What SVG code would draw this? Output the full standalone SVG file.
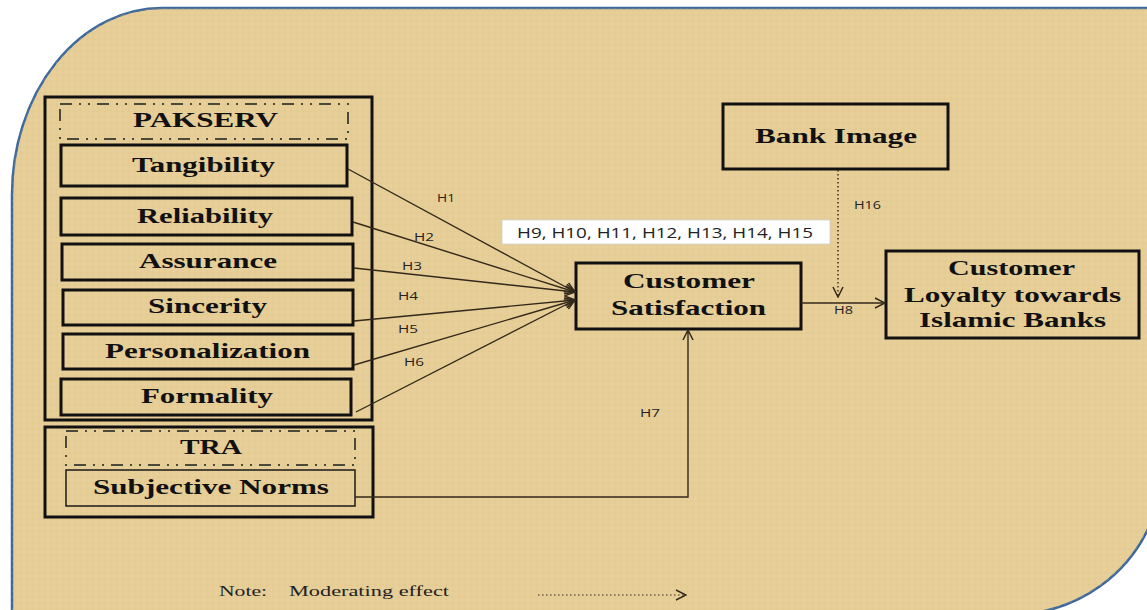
<svg xmlns="http://www.w3.org/2000/svg" width="1147" height="610" viewBox="0 0 1147 610">
<defs>
<style>
.bg{fill:#e8cf99;stroke:#3d689c;stroke-width:2.5}
.box{fill:none;stroke:#111;stroke-width:3}
.thin{fill:none;stroke:#1a1a1a;stroke-width:1.5}
.dash{fill:none;stroke:#4a4a3a;stroke-width:2;stroke-dasharray:12 7 2 7 2 7}
.t{font-family:"Liberation Serif","Times New Roman",serif;font-weight:bold;fill:#111}
.h{font-family:"Open Sans","Liberation Sans",sans-serif;fill:#222}
.n{font-family:"Liberation Serif","Times New Roman",serif;fill:#222}
.c{fill:none;stroke:#33291a;stroke-width:1.4}
</style>
<marker id="ah" viewBox="0 0 12 12" refX="11" refY="6" markerWidth="12" markerHeight="12" markerUnits="userSpaceOnUse" orient="auto">
<path d="M1,1 L11,6 L1,11" fill="none" stroke="#33291a" stroke-width="1.5"/>
</marker>
<pattern id="tex" width="6" height="6" patternUnits="userSpaceOnUse">
<path d="M0,3 H6 M3,0 V6" stroke="#d9bd82" stroke-width="0.6" opacity="0.5"/>
</pattern>
</defs>
<rect width="1147" height="610" fill="#ffffff"/>
<path class="bg" d="M12,614 V195 A150,187 0 0 1 162,8 H1152 V520 A150,150 0 0 1 1023,614 Z"/>
<path d="M12,614 V195 A150,187 0 0 1 162,8 H1152 V520 A150,150 0 0 1 1023,614 Z" fill="url(#tex)"/>

<g id="pakserv">
<rect class="box" x="45" y="97" width="327" height="323"/>
<rect class="dash" x="60" y="104" width="288" height="35"/>
<text class="t" x="133" y="127" font-size="20" textLength="145" lengthAdjust="spacingAndGlyphs">PAKSERV</text>
</g>
<g id="tangibility">
<rect class="box" x="61" y="145" width="286" height="41"/>
<text class="t" x="132" y="172" font-size="22" textLength="143" lengthAdjust="spacingAndGlyphs">Tangibility</text>
</g>
<g id="reliability">
<rect class="box" x="61" y="198" width="291" height="37"/>
<text class="t" x="137" y="223" font-size="22" textLength="136" lengthAdjust="spacingAndGlyphs">Reliability</text>
</g>
<g id="assurance">
<rect class="box" x="62" y="244" width="291" height="36"/>
<text class="t" x="139" y="268" font-size="22" textLength="138" lengthAdjust="spacingAndGlyphs">Assurance</text>
</g>
<g id="sincerity">
<rect class="box" x="63" y="290" width="290" height="35"/>
<text class="t" x="148" y="313" font-size="22" textLength="119" lengthAdjust="spacingAndGlyphs">Sincerity</text>
</g>
<g id="personalization">
<rect class="box" x="63" y="334" width="290" height="35"/>
<text class="t" x="105" y="358" font-size="22" textLength="205" lengthAdjust="spacingAndGlyphs">Personalization</text>
</g>
<g id="formality">
<rect class="box" x="61" y="379" width="290" height="36"/>
<text class="t" x="141" y="403" font-size="22" textLength="132" lengthAdjust="spacingAndGlyphs">Formality</text>
</g>
<g id="tra">
<rect class="box" x="45" y="427" width="328" height="90"/>
<rect class="dash" x="66" y="431" width="289" height="34"/>
<text class="t" x="180" y="454" font-size="20" textLength="62" lengthAdjust="spacingAndGlyphs">TRA</text>
</g>
<g id="subjective-norms">
<rect class="thin" x="66" y="470" width="289" height="36"/>
<text class="t" x="93" y="494" font-size="21" textLength="236" lengthAdjust="spacingAndGlyphs">Subjective Norms</text>
</g>
<g id="customer-satisfaction">
<rect class="box" x="576" y="263" width="225" height="66"/>
<text class="t" x="623" y="288" font-size="21" textLength="132" lengthAdjust="spacingAndGlyphs">Customer</text>
<text class="t" x="611" y="315" font-size="21" textLength="155" lengthAdjust="spacingAndGlyphs">Satisfaction</text>
</g>
<g id="bank-image">
<rect class="box" x="723" y="104" width="225" height="65"/>
<text class="t" x="755" y="143" font-size="21" textLength="162" lengthAdjust="spacingAndGlyphs">Bank Image</text>
</g>
<g id="customer-loyalty">
<rect class="box" x="886" y="251" width="253" height="87"/>
<text class="t" x="948" y="275" font-size="21" textLength="127" lengthAdjust="spacingAndGlyphs">Customer</text>
<text class="t" x="904" y="302" font-size="21" textLength="217" lengthAdjust="spacingAndGlyphs">Loyalty towards</text>
<text class="t" x="919" y="327" font-size="21" textLength="187" lengthAdjust="spacingAndGlyphs">Islamic Banks</text>
</g>
<g id="moderators-label">
<rect x="502" y="220" width="328" height="24" fill="#ffffff" stroke="#cfcfcf" stroke-width="0.8"/>
<text class="h" x="517" y="238" font-size="14" textLength="296" lengthAdjust="spacingAndGlyphs">H9, H10, H11, H12, H13, H14, H15</text>
</g>

<g id="connectors">
<line class="c" x1="348" y1="169" x2="575" y2="292" marker-end="url(#ah)"/>
<line class="c" x1="353" y1="222" x2="575" y2="292" marker-end="url(#ah)"/>
<line class="c" x1="354" y1="268" x2="575" y2="292" marker-end="url(#ah)"/>
<line class="c" x1="354" y1="321" x2="575" y2="300" marker-end="url(#ah)"/>
<line class="c" x1="354" y1="365" x2="575" y2="300" marker-end="url(#ah)"/>
<line class="c" x1="356" y1="412" x2="575" y2="300" marker-end="url(#ah)"/>
<polyline class="c" points="355,497 688,497 688,330" marker-end="url(#ah)"/>
<line class="c" x1="801" y1="303" x2="885" y2="303" marker-end="url(#ah)"/>
<line x1="838" y1="170" x2="838" y2="297" stroke="#33291a" stroke-width="1.4" stroke-dasharray="1.5 2.5" marker-end="url(#ah)"/>
<text class="h" x="437" y="202" font-size="11" textLength="18" lengthAdjust="spacingAndGlyphs">H1</text>
<text class="h" x="414" y="241" font-size="11" textLength="20" lengthAdjust="spacingAndGlyphs">H2</text>
<text class="h" x="402" y="270" font-size="11" textLength="20" lengthAdjust="spacingAndGlyphs">H3</text>
<text class="h" x="398" y="300" font-size="11" textLength="20" lengthAdjust="spacingAndGlyphs">H4</text>
<text class="h" x="398" y="333" font-size="11" textLength="20" lengthAdjust="spacingAndGlyphs">H5</text>
<text class="h" x="404" y="366" font-size="11" textLength="20" lengthAdjust="spacingAndGlyphs">H6</text>
<text class="h" x="640" y="417" font-size="11" textLength="20" lengthAdjust="spacingAndGlyphs">H7</text>
<text class="h" x="834" y="314" font-size="11" textLength="19" lengthAdjust="spacingAndGlyphs">H8</text>
<text class="h" x="854" y="209" font-size="11" textLength="27" lengthAdjust="spacingAndGlyphs">H16</text>
</g>

<g id="note">
<text class="n" x="219" y="596" font-size="14" textLength="48" lengthAdjust="spacingAndGlyphs">Note:</text>
<text class="n" x="289" y="596" font-size="14" textLength="160" lengthAdjust="spacingAndGlyphs">Moderating effect</text>
<line x1="538" y1="595" x2="686" y2="595" stroke="#33291a" stroke-width="1.2" stroke-dasharray="1.5 2.5" marker-end="url(#ah)"/>
</g>
</svg>
